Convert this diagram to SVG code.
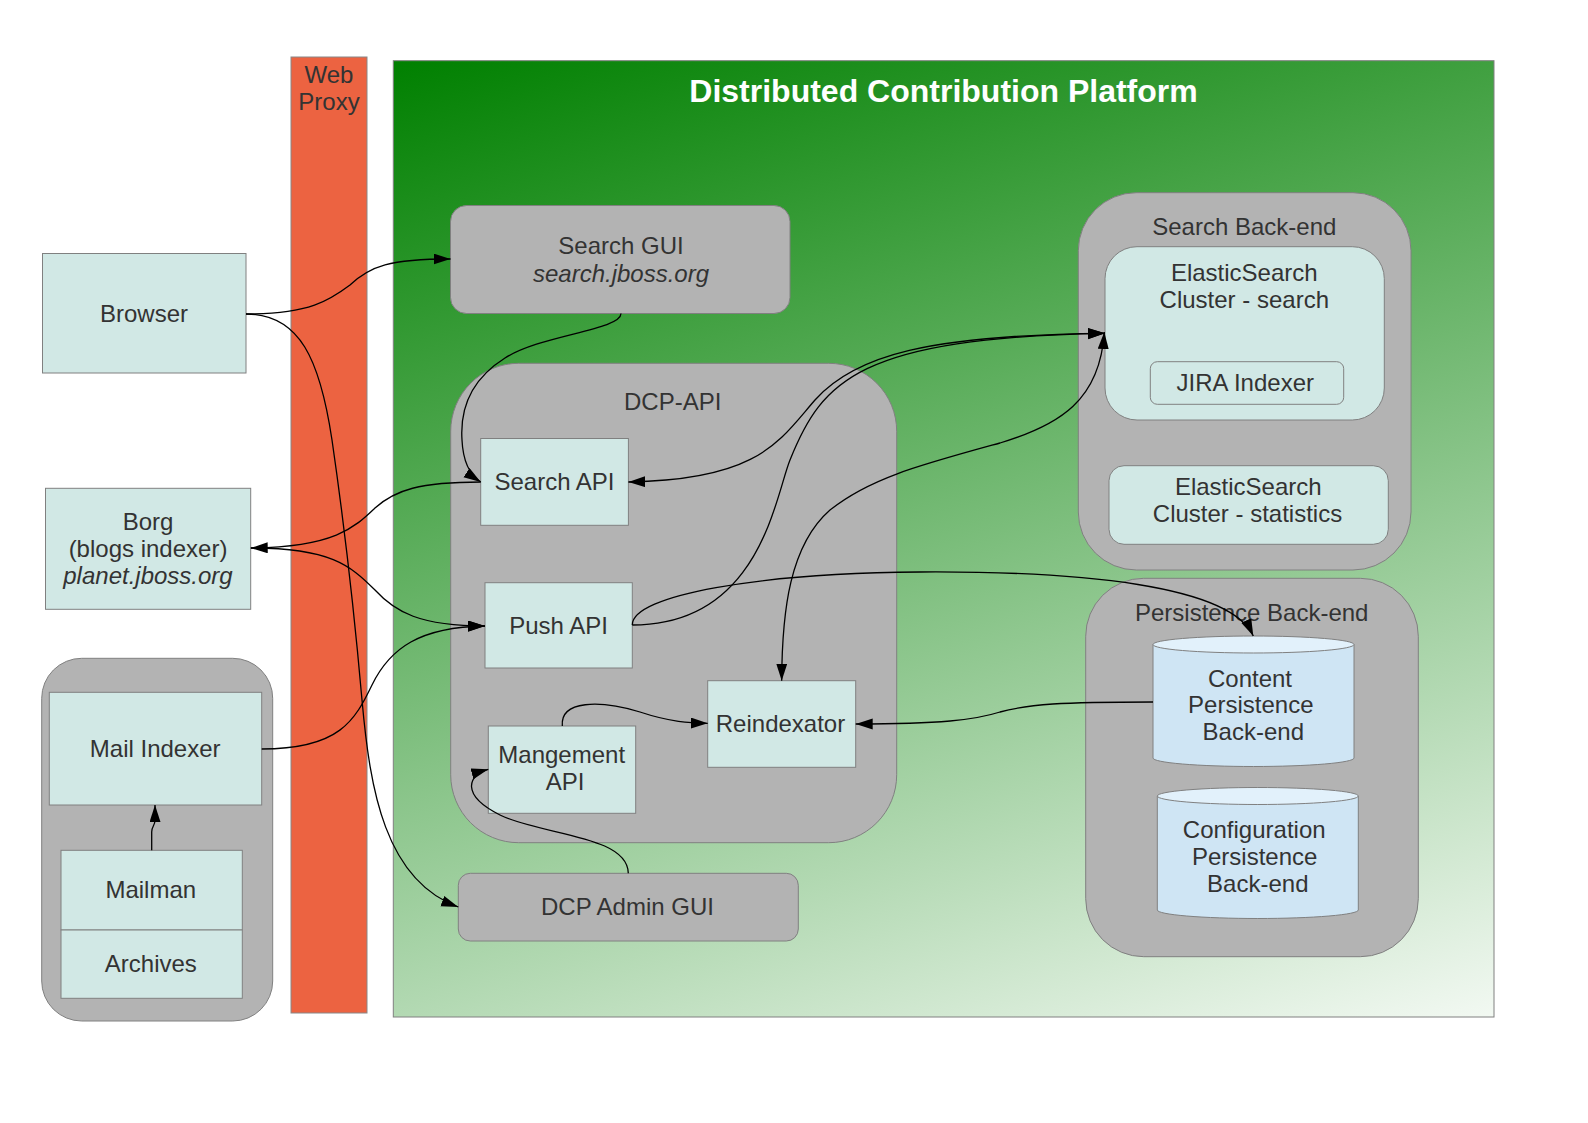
<svg xmlns="http://www.w3.org/2000/svg" width="1588" height="1123" viewBox="0 0 1588 1123">
<defs>
<linearGradient id="platGrad" gradientUnits="userSpaceOnUse" x1="393" y1="61" x2="779" y2="1307">
<stop offset="0" stop-color="#008000"/>
<stop offset="1" stop-color="#ffffff"/>
</linearGradient>
<filter id="shadow" x="-5%" y="-20%" width="110%" height="150%">
<feDropShadow dx="1.5" dy="1.5" stdDeviation="0.3" flood-color="#333333" flood-opacity="1"/>
</filter>
<marker id="arr" markerUnits="userSpaceOnUse" markerWidth="18" markerHeight="12" refX="17" refY="5.5" orient="auto-start-reverse">
<path d="M0,0 L17,5.5 L0,11 Z" fill="#000"/>
</marker>
</defs>
<style>
text{font-family:"Liberation Sans",Arial,sans-serif;font-size:24px;fill:#333333;text-anchor:middle}
.it{font-style:italic}
.box{fill:#d1e8e5;stroke:#808080;stroke-width:1}
.grp{fill:#b3b3b3;stroke:#808080;stroke-width:1}
.cyl{fill:#cfe5f4;stroke:#808080;stroke-width:1}
.cyltop{fill:#e2f1fb;stroke:#808080;stroke-width:1}
.con{fill:none;stroke:#000;stroke-width:1.3}
.title{font-size:32px;font-weight:bold;fill:#ffffff}
</style>
<rect width="1588" height="1123" fill="#ffffff"/>

<g id="web-proxy">
<rect x="291" y="57" width="76" height="956" fill="#ec6341" stroke="#888888" stroke-width="1"/>
<text x="329" y="83">Web</text>
<text x="329" y="110">Proxy</text>
</g>

<g id="platform">
<rect x="393.3" y="60.7" width="1100.7" height="956.3" fill="url(#platGrad)" stroke="#808080" stroke-width="1"/>
<text class="title" x="943.5" y="102">Distributed Contribution Platform</text>
</g>

<g id="browser">
<rect class="box" x="42.5" y="253.5" width="203.5" height="119.5"/>
<text x="144" y="322">Browser</text>
</g>

<g id="borg">
<rect class="box" x="45.5" y="488.3" width="205.2" height="121"/>
<text x="148" y="529.5">Borg</text>
<text x="148" y="556.5">(blogs indexer)</text>
<text class="it" x="148" y="583.5">planet.jboss.org</text>
</g>

<g id="mail-group">
<rect class="grp" x="41.7" y="658.3" width="231" height="362.7" rx="40" ry="40"/>
</g>
<g id="mail-indexer">
<rect class="box" x="49.3" y="692.3" width="212.4" height="112.7"/>
<text x="155.2" y="757.3">Mail Indexer</text>
</g>
<g id="mailman">
<rect class="box" x="61" y="850.3" width="181.3" height="79.7"/>
<text x="150.8" y="898.3">Mailman</text>
</g>
<g id="archives">
<rect class="box" x="61" y="930" width="181.3" height="68.3"/>
<text x="150.8" y="971.7">Archives</text>
</g>

<g id="search-gui">
<rect class="grp" x="450.5" y="205.5" width="339.5" height="108" rx="16" ry="16"/>
<text x="621" y="254">Search GUI</text>
<text class="it" x="621" y="281.5">search.jboss.org</text>
</g>

<g id="dcp-api">
<rect class="grp" x="450.7" y="363.3" width="446" height="479.4" rx="68" ry="68"/>
<text x="672.7" y="410">DCP-API</text>
</g>
<g id="search-api">
<rect class="box" x="480.7" y="438.5" width="147.7" height="86.8"/>
<text x="554.5" y="490">Search API</text>
</g>
<g id="push-api">
<rect class="box" x="485" y="582.7" width="147.3" height="85.3"/>
<text x="558.5" y="634">Push API</text>
</g>
<g id="management-api">
<rect class="box" x="488.3" y="726" width="147.4" height="87.3"/>
<text x="561.7" y="763.3">Mangement</text>
<text x="565" y="790">API</text>
</g>
<g id="reindexator">
<rect class="box" x="707.7" y="680.7" width="148" height="86.6"/>
<text x="780.5" y="731.7">Reindexator</text>
</g>

<g id="dcp-admin-gui">
<rect class="grp" x="458.3" y="873.3" width="340" height="67.7" rx="12" ry="12"/>
<text x="627.5" y="915">DCP Admin GUI</text>
</g>

<g id="search-backend">
<rect class="grp" x="1078.3" y="192.7" width="332.7" height="377.3" rx="58" ry="58"/>
<text x="1244.3" y="235">Search Back-end</text>
</g>
<g id="es-search">
<rect class="box" x="1105" y="246.7" width="279.3" height="173.3" rx="32" ry="32"/>
<text x="1244.3" y="280.7">ElasticSearch</text>
<text x="1244.3" y="307.7">Cluster - search</text>
</g>
<g id="jira-indexer">
<rect class="box" x="1150.3" y="361.7" width="193.4" height="42.6" rx="7" ry="7"/>
<text x="1245.3" y="390.7">JIRA Indexer</text>
</g>
<g id="es-statistics">
<rect class="box" x="1109" y="465.7" width="279.3" height="78.6" rx="15" ry="15"/>
<text x="1248.3" y="495">ElasticSearch</text>
<text x="1247.5" y="521.7">Cluster - statistics</text>
</g>

<g id="persistence-backend">
<rect class="grp" x="1085.7" y="578.3" width="332.6" height="378.4" rx="58" ry="58"/>
<text x="1251.7" y="621">Persistence Back-end</text>
</g>
<g id="content-persistence">
<path class="cyl" d="M1153,644.5 L1153,758 A100.5,8.5 0 0 0 1354,758 L1354,644.5 Z"/>
<ellipse class="cyltop" cx="1253.5" cy="644.5" rx="100.5" ry="8.5"/>
<text x="1250" y="686.7">Content</text>
<text x="1250.8" y="713.3">Persistence</text>
<text x="1253.3" y="740">Back-end</text>
</g>
<g id="configuration-persistence">
<path class="cyl" d="M1157.3,796 L1157.3,910 A100.5,8.5 0 0 0 1358.3,910 L1358.3,796 Z"/>
<ellipse class="cyltop" cx="1257.8" cy="796" rx="100.5" ry="8.5"/>
<text x="1254.2" y="838.3">Configuration</text>
<text x="1254.7" y="865">Persistence</text>
<text x="1257.8" y="891.7">Back-end</text>
</g>

<g id="connectors">
<path class="con" marker-end="url(#arr)" d="M246,314 C310,314 330,300 350,285 C370,266 390,259 450.5,259"/>
<path class="con" marker-end="url(#arr)" d="M246,314 C300,314 320,360 332,440 C345,530 355,620 362,700 C370,790 385,880 458.3,907"/>
<path class="con" marker-end="url(#arr)" d="M621,313.5 C621,330 540,335 505,358 C470,380 460,410 462,440 C463,462 470,475 480.7,482"/>
<path class="con" marker-end="url(#arr)" d="M480.7,482 C420,482 395,490 375,508 C355,527 335,547 250.7,548"/>
<path class="con" marker-end="url(#arr)" d="M251,548 C330,548 350,565 375,590 C395,612 420,626 485,626"/>
<path class="con" marker-end="url(#arr)" d="M261.7,749 C340,749 355,720 372,685 C390,648 420,627 485,626"/>
<path class="con" marker-end="url(#arr)" d="M151.7,850.3 L151.7,832 C151.7,826 155,826 155,820 L155,805"/>
<path class="con" marker-start="url(#arr)" marker-end="url(#arr)" d="M628.4,482 C760,480 780,440 815,400 C855,355 930,335 1105,333.3"/>
<path class="con" marker-end="url(#arr)" d="M632.3,625 C760,625 775,497 790,460 C822,380 860,338 1105,333.3"/>
<path class="con" marker-start="url(#arr)" marker-end="url(#arr)" d="M1104.3,332 C1100,400 1060,425 1000,443 C920,465 870,478 830,510 C790,545 782,610 781.7,680.7"/>
<path class="con" marker-end="url(#arr)" d="M632.3,625 C632,595 760,573 920,572 C1080,571 1230,585 1253.3,636"/>
<path class="con" marker-end="url(#arr)" d="M1153,702 C1060,702 1030,704 1000,712 C975,720 940,724 855.7,724"/>
<path class="con" marker-end="url(#arr)" d="M562.3,726 C560,700 600,700 640,712 C670,722 690,723 707.7,723.3"/>
<path class="con" marker-end="url(#arr)" d="M628.3,873.3 C628,835 540,835 500,815 C460,795 468,775 488.3,769.3"/>
</g>
</svg>
